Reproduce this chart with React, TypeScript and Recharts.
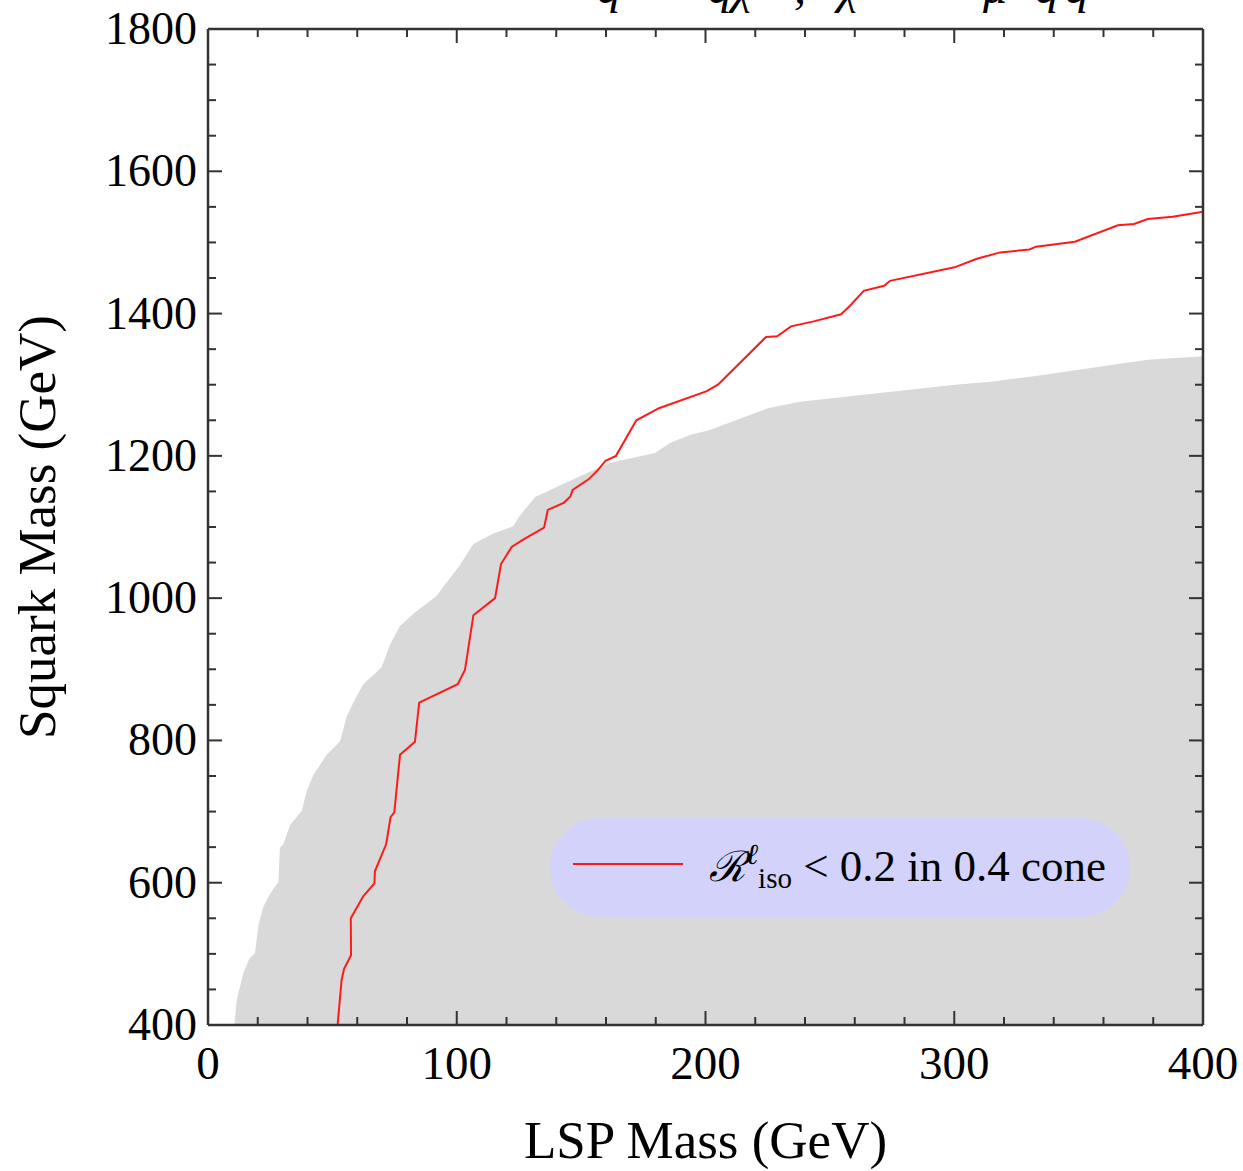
import React from "react";
import { ComposedChart, Area, Line, XAxis, YAxis, Legend, Label } from "recharts";

// upper edge of the shaded (excluded) region
const shadeLsp = [
  10.6, 11.5, 14.2, 16.6, 18.9, 20.2, 22.2, 24.9, 28.3, 28.9, 30.3, 33, 37.7, 39.7, 42.3, 47.7,
  53.1, 55.8, 58.4, 62.4, 69.8, 73.2, 77.2, 82.5, 91.9, 94.6, 100.6, 106.7, 114.7, 122.7, 125.4,
  131.5, 139.5, 161.2, 179.7, 185.7, 193.4, 201.4, 225.1, 238, 250.8, 300.3, 314.8, 336.5, 365.8,
  377.9, 400,
];
const shadeSquark = [
  400, 434, 473, 493, 501, 539, 566, 584, 601, 649, 654, 681, 701, 729, 751, 780,
  799, 834, 853, 879, 903, 935, 961, 978, 1003, 1016, 1043, 1076, 1091, 1101, 1116,
  1142, 1155, 1190, 1204, 1218, 1229, 1236, 1267, 1276, 1281, 1300, 1304, 1314, 1329,
  1335, 1340,
];

// isolation cut contour
const contourLsp = [
  52.1, 53.7, 54.7, 57.5, 57.4, 62.4, 66.9, 67.1, 71.6, 73.4, 74.9, 77.2, 83.2, 84.9, 100.4,
  103.3, 106.7, 115.4, 117.8, 122.1, 126.5, 135.1, 136.6, 143, 145.7, 146.6, 153, 156.7, 159.8,
  164, 172.2, 181.3, 200.5, 205, 224.3, 228.8, 234.4, 243.5, 254.5, 258.1, 263.6, 271.8, 274.2,
  300.1, 309.1, 318.4, 330.2, 332.9, 348.5, 365.8, 372.3, 377.8, 387.8, 400,
];
const contourSquark = [
  400, 463, 479, 498, 550, 581, 599, 616, 654, 692, 699, 780, 798, 853, 879,
  899, 976, 1000, 1048, 1072, 1082, 1099, 1124, 1134, 1143, 1152, 1167, 1180, 1193,
  1200, 1250, 1267, 1291, 1300, 1367, 1368, 1382, 1389, 1399, 1411, 1432, 1439, 1446,
  1465, 1477, 1486, 1490, 1494, 1501, 1524, 1526, 1533, 1536, 1543,
];

const xTicks = [0, 20, 40, 60, 80, 100, 120, 140, 160, 180, 200, 220, 240, 260, 280, 300, 320, 340, 360, 380, 400];
const xLabels = [0, 100, 200, 300, 400];
const yTicks = [
  400, 450, 500, 550, 600, 650, 700, 750, 800, 850, 900, 950, 1000, 1050, 1100, 1150,
  1200, 1250, 1300, 1350, 1400, 1450, 1500, 1550, 1600, 1650, 1700, 1750, 1800,
];
const yLabels = [400, 600, 800, 1000, 1200, 1400, 1600, 1800];

const shadeData = shadeLsp.map((lsp, i) => ({ lsp, squark: shadeSquark[i] }));
const contourData = contourLsp.map((lsp, i) => ({ lsp, squark: contourSquark[i] }));

const FRAME = "#333333";
const SERIF = "'Liberation Serif', 'Times New Roman', serif";
const MAJOR = 14;
const MINOR = 8;

function BottomTick({ x, y, payload }: any) {
  const major = xLabels.includes(payload.value);
  return (
    <g>
      <line x1={x} x2={x} y1={y} y2={y - (major ? MAJOR : MINOR)} stroke={FRAME} strokeWidth={2} />
      {major && (
        <text x={x} y={y + 54} textAnchor="middle" fontSize={47} fontFamily={SERIF} fill="#000">
          {payload.value}
        </text>
      )}
    </g>
  );
}

function TopTick({ x, y, payload }: any) {
  const major = xLabels.includes(payload.value);
  return <line x1={x} x2={x} y1={y} y2={y + (major ? MAJOR : MINOR)} stroke={FRAME} strokeWidth={2} />;
}

function LeftTick({ x, y, payload }: any) {
  const major = yLabels.includes(payload.value);
  return (
    <g>
      <line x1={x} x2={x + (major ? MAJOR : MINOR)} y1={y} y2={y} stroke={FRAME} strokeWidth={2} />
      {major && (
        <text x={x - 11} y={y + 15} textAnchor="end" fontSize={46} fontFamily={SERIF} fill="#000">
          {payload.value}
        </text>
      )}
    </g>
  );
}

function RightTick({ x, y, payload }: any) {
  const major = yLabels.includes(payload.value);
  return <line x1={x} x2={x - (major ? MAJOR : MINOR)} y1={y} y2={y} stroke={FRAME} strokeWidth={2} />;
}

function IsoLegend({ payload }: any) {
  const item = (payload || []).find((p: any) => p.type !== "none");
  const color = item ? item.color : "#ff1a1a";
  return (
    <div style={{ width: 580, height: 99, borderRadius: 50, background: "#d2d2fb", position: "relative" }}>
      <svg width={580} height={99} style={{ position: "absolute", left: 0, top: 0 }}>
        <line x1={23} x2={133} y1={46} y2={46} stroke={color} strokeWidth={1.8} />
        <text x={159} y={63} fontFamily={SERIF} fontSize={45} fill="#000">
          <tspan fontStyle="italic" fontSize={42}>ℛ</tspan>
          <tspan dy={-17} fontSize={29} fontStyle="italic">ℓ</tspan>
          <tspan dy={24} fontSize={29}>iso</tspan>
          <tspan dy={-7}> &lt; 0.2 in 0.4 cone</tspan>
        </text>
      </svg>
    </div>
  );
}

// process title above the frame; only its lower part falls inside the page
function ProcessTitle() {
  return (
    <g fontSize={48} fontStyle="italic" fontFamily={SERIF} fill="#000">
      <text y={3}>
        <tspan x={597}>q̃</tspan>
        <tspan x={708}>qχ̃</tspan>
        <tspan x={794}>,</tspan>
        <tspan x={838}>χ̃</tspan>
        <tspan x={983}>μ</tspan>
        <tspan x={1035}>q</tspan>
        <tspan x={1065}>q</tspan>
      </text>
      <text y={-6}>
        <tspan x={632}>→</tspan>
        <tspan x={902}>→</tspan>
      </text>
    </g>
  );
}

export default function App() {
  return (
    <div style={{ position: "absolute", left: 0, top: 0, width: 1243, height: 1171, background: "#fff" }}>
      <ComposedChart width={1243} height={1171} margin={{ top: 28, right: 39, bottom: 0, left: 0 }}>
        <XAxis
          xAxisId="x"
          dataKey="lsp"
          type="number"
          domain={[0, 400]}
          ticks={xTicks}
          interval={0}
          height={146}
          tickSize={0}
          tickMargin={0}
          tickLine={false}
          tick={<BottomTick />}
          axisLine={{ stroke: FRAME, strokeWidth: 2.5 }}
        >
          <Label
            content={({ viewBox }: any) => (
              <text
                x={viewBox.x + viewBox.width / 2}
                y={1158}
                textAnchor="middle"
                fontSize={53}
                fontFamily={SERIF}
                fill="#000"
              >
                LSP Mass (GeV)
              </text>
            )}
          />
        </XAxis>
        {/* mirrored frame on top/right, same domains as the bottom/left axes */}
        <XAxis
          xAxisId="top"
          orientation="top"
          dataKey="lsp"
          type="number"
          domain={[0, 400]}
          ticks={xTicks}
          interval={0}
          height={1}
          tickSize={0}
          tickMargin={0}
          tickLine={false}
          tick={<TopTick />}
          axisLine={{ stroke: FRAME, strokeWidth: 2.5 }}
        >
          <Label content={() => <ProcessTitle />} />
        </XAxis>
        <YAxis
          yAxisId="y"
          type="number"
          domain={[400, 1800]}
          ticks={yTicks}
          interval={0}
          width={208}
          tickSize={0}
          tickMargin={0}
          tickLine={false}
          tick={<LeftTick />}
          axisLine={{ stroke: FRAME, strokeWidth: 2.5 }}
        >
          <Label
            content={({ viewBox }: any) => {
              const cy = viewBox.y + viewBox.height / 2;
              return (
                <text
                  x={55}
                  y={cy}
                  transform={`rotate(-90, 55, ${cy})`}
                  textAnchor="middle"
                  fontSize={53}
                  fontFamily={SERIF}
                  fill="#000"
                >
                  Squark Mass (GeV)
                </text>
              );
            }}
          />
        </YAxis>
        <YAxis
          yAxisId="right"
          orientation="right"
          type="number"
          domain={[400, 1800]}
          ticks={yTicks}
          interval={0}
          width={1}
          tickSize={0}
          tickMargin={0}
          tickLine={false}
          tick={<RightTick />}
          axisLine={{ stroke: FRAME, strokeWidth: 2.5 }}
        />
        <Area
          data={shadeData}
          xAxisId="x"
          yAxisId="y"
          dataKey="squark"
          type="linear"
          fill="#d9d9d9"
          fillOpacity={1}
          stroke="none"
          legendType="none"
          isAnimationActive={false}
        />
        <Line
          data={contourData}
          xAxisId="top"
          yAxisId="right"
          dataKey="squark"
          type="linear"
          stroke="#ff1a1a"
          strokeWidth={2}
          dot={false}
          isAnimationActive={false}
        />
        <Legend
          layout="horizontal"
          verticalAlign="middle"
          align="center"
          content={<IsoLegend />}
          wrapperStyle={{ left: 550, top: 818, width: 580 }}
        />
      </ComposedChart>
    </div>
  );
}
